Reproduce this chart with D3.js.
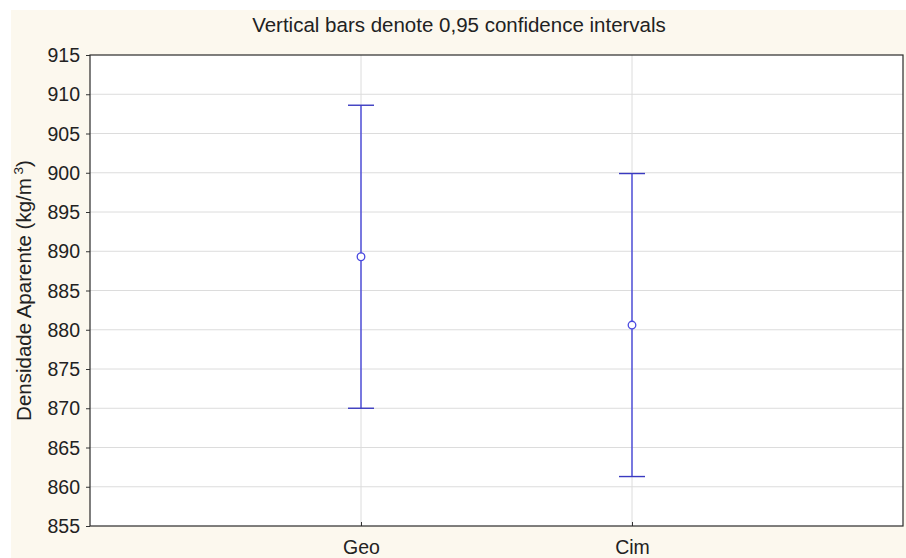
<!DOCTYPE html>
<html>
<head>
<meta charset="utf-8">
<script src="https://cdn.jsdelivr.net/npm/d3@7"></script>
<style>
  html, body { margin: 0; padding: 0; background: #ffffff; }
  svg { display: block; font-family: "Liberation Sans", Arial, sans-serif; }
</style>
</head>
<body>
<svg id="chart" width="906" height="558"></svg>
<script>
// Groups and their means with 0,95 confidence limits
const categories = ["Geo", "Cim"];
const means = [889.3, 880.6];
const lowerCI = [870.0, 861.3];
const upperCI = [908.6, 899.9];
const yTicks = [855, 860, 865, 870, 875, 880, 885, 890, 895, 900, 905, 910, 915];

const svg = d3.select("#chart");
const W = 906, H = 558;
const margin = { left: 90, right: 3, top: 55, bottom: 32 };
const plotW = W - margin.left - margin.right;
const plotH = H - margin.top - margin.bottom;
const fontFam = "'Liberation Sans', Arial, sans-serif";
const textColor = "#222";

// Cream backdrop
svg.append("rect").attr("x", 11).attr("y", 10).attr("width", W - 11).attr("height", H - 10)
  .attr("fill", "#fcf8ee");

const g = svg.append("g").attr("transform", `translate(${margin.left},${margin.top})`);

g.append("rect").attr("width", plotW).attr("height", plotH).attr("fill", "#ffffff");

const x = d3.scalePoint().domain(["", ...categories, " "]).range([0, plotW]);
const y = d3.scaleLinear().domain([855, 915]).range([plotH, 0]);

// Gridlines
g.append("g").selectAll("line").data(yTicks.slice(1, -1)).join("line")
  .attr("x1", 0).attr("x2", plotW)
  .attr("y1", d => y(d)).attr("y2", d => y(d))
  .attr("stroke", "#dcdcdc").attr("stroke-width", 1);
g.append("g").selectAll("line").data(categories).join("line")
  .attr("x1", d => x(d)).attr("x2", d => x(d))
  .attr("y1", 0).attr("y2", plotH)
  .attr("stroke", "#dcdcdc").attr("stroke-width", 1);

// Axes
const yAxis = g.append("g").call(d3.axisLeft(y).tickValues(yTicks).tickSize(4).tickPadding(6).tickFormat(d3.format("d")));
yAxis.select(".domain").remove();
yAxis.selectAll("line").attr("stroke", "#333");
yAxis.selectAll("text").attr("font-size", 19.5).attr("fill", textColor)
  .attr("font-family", fontFam).attr("dy", "0.34em");

const xAxis = g.append("g").attr("transform", `translate(0,${plotH})`)
  .call(d3.axisBottom(x).tickValues(categories).tickSize(-4).tickPadding(12));
xAxis.select(".domain").remove();
xAxis.selectAll("line").attr("stroke", "#333");
xAxis.selectAll("text").attr("font-size", 19.5).attr("fill", textColor)
  .attr("font-family", fontFam).attr("y", 28).attr("dy", 0);

// Plot frame
g.append("rect").attr("width", plotW).attr("height", plotH)
  .attr("fill", "none").attr("stroke", "#2b2b2b").attr("stroke-width", 1.2);

// Confidence interval whiskers
const blue = "#2b2bd6";
const capHalf = 13;
const data = categories.map((c, i) => ({ c, m: means[i], lo: lowerCI[i], hi: upperCI[i] }));
const eb = g.append("g");
eb.selectAll("line.v").data(data).join("line").attr("class", "v")
  .attr("x1", d => x(d.c)).attr("x2", d => x(d.c))
  .attr("y1", d => y(d.hi)).attr("y2", d => y(d.lo))
  .attr("stroke", blue).attr("stroke-width", 1.2);
eb.selectAll("line.hi").data(data).join("line").attr("class", "hi")
  .attr("x1", d => x(d.c) - capHalf).attr("x2", d => x(d.c) + capHalf)
  .attr("y1", d => y(d.hi)).attr("y2", d => y(d.hi))
  .attr("stroke", "#3a3ac0").attr("stroke-width", 1.4);
eb.selectAll("line.lo").data(data).join("line").attr("class", "lo")
  .attr("x1", d => x(d.c) - capHalf).attr("x2", d => x(d.c) + capHalf)
  .attr("y1", d => y(d.lo)).attr("y2", d => y(d.lo))
  .attr("stroke", "#3a3ac0").attr("stroke-width", 1.4);
eb.selectAll("circle").data(data).join("circle")
  .attr("cx", d => x(d.c)).attr("cy", d => y(d.m)).attr("r", 3.8)
  .attr("fill", "#ffffff").attr("stroke", "#4a4ae0").attr("stroke-width", 1.3);

// Title
svg.append("text").attr("x", 459).attr("y", 31.5).attr("text-anchor", "middle")
  .attr("font-size", 20.5).attr("fill", textColor)
  .text("Vertical bars denote 0,95 confidence intervals");

// Y axis title
const yt = svg.append("text")
  .attr("transform", `translate(31,${margin.top + plotH / 2}) rotate(-90)`)
  .attr("text-anchor", "middle").attr("font-size", 20.5).attr("fill", textColor);
yt.append("tspan").text("Densidade Aparente (kg/m");
yt.append("tspan").attr("dy", -8).attr("font-size", 13.5).text(" 3");
yt.append("tspan").attr("dy", 8).text(")");
</script>
</body>
</html>
